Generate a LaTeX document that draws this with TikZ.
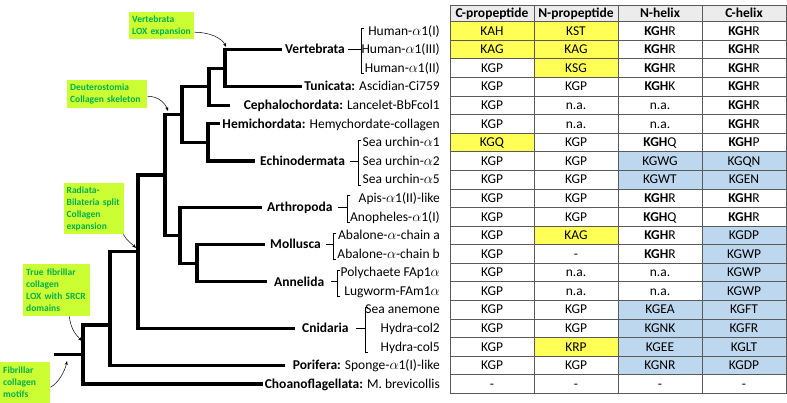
\documentclass[tikz,border=0pt]{standalone}
\usepackage{fontspec}
\setmainfont{Carlito}
\usetikzlibrary{matrix,arrows.meta}
\definecolor{boxg}{RGB}{204,255,51}
\definecolor{txtg}{RGB}{0,176,80}
\definecolor{yelc}{RGB}{255,255,85}
\definecolor{bluc}{RGB}{189,215,238}
\definecolor{hdrc}{RGB}{236,236,236}
\definecolor{gridc}{RGB}{90,90,90}
\begin{document}
\begin{tikzpicture}[x=1pt,y=-1pt,
 tree/.style={line width=3.2pt},
 grp/.style={font=\fontsize{13.5}{15}\selectfont\bfseries, inner xsep=3pt, inner ysep=0pt, text height=11.5pt, text depth=3pt, anchor=west},
 sp/.style={font=\fontsize{13.5}{15}\selectfont, inner xsep=2pt, inner ysep=0pt, text height=11.5pt, text depth=3pt, anchor=east},
 brk/.style={line width=0.6pt},
 note/.style={fill=boxg, text=txtg, font=\fontsize{9.5}{12}\selectfont\bfseries, align=left, anchor=north west, inner xsep=3pt, inner ysep=2pt},
 arr/.style={-{Stealth[length=4pt,width=3pt]}, line width=0.5pt},
 cell/.style={minimum width=84pt, minimum height=18.58pt, inner sep=0pt, outer sep=0pt, text height=11.5pt, text depth=3pt, font=\fontsize{13.5}{15}\selectfont},
 hd/.style={fill=hdrc, minimum height=16.7pt, font=\fontsize{13.5}{15}\selectfont\bfseries},
 yc/.style={fill=yelc}, bc/.style={fill=bluc},
 gline/.style={draw=gridc, line width=0.8pt}
]
\useasboundingbox (0,0) rectangle (787,403);

% ---------- table ----------
\matrix (tab) [matrix of nodes, nodes={cell}, column sep=0pt, row sep=0pt, anchor=north west, inner sep=0pt, outer sep=0pt] at (450,5) {
|[hd]| C-propeptide & |[hd]| N-propeptide & |[hd]| N-helix & |[hd]| C-helix \\
|[yc]| KAH & |[yc]| KST & \textbf{KGH}R & \textbf{KGH}R \\
|[yc]| KAG & |[yc]| KAG & \textbf{KGH}R & \textbf{KGH}R \\
KGP & |[yc]| KSG & \textbf{KGH}R & \textbf{KGH}R \\
KGP & KGP & \textbf{KGH}K & \textbf{KGH}R \\
KGP & n.a. & n.a. & \textbf{KGH}R \\
KGP & n.a. & n.a. & \textbf{KGH}R \\
|[yc]| KGQ & KGP & \textbf{KGH}Q & \textbf{KGH}P \\
KGP & KGP & |[bc]| KGWG & |[bc]| KGQN \\
KGP & KGP & |[bc]| KGWT & |[bc]| KGEN \\
KGP & KGP & \textbf{KGH}R & \textbf{KGH}R \\
KGP & KGP & \textbf{KGH}Q & \textbf{KGH}R \\
KGP & |[yc]| KAG & \textbf{KGH}R & |[bc]| KGDP \\
KGP & - & \textbf{KGH}R & |[bc]| KGWP \\
KGP & n.a. & n.a. & |[bc]| KGWP \\
KGP & n.a. & n.a. & |[bc]| KGWP \\
KGP & KGP & |[bc]| KGEA & |[bc]| KGFT \\
KGP & KGP & |[bc]| KGNK & |[bc]| KGFR \\
KGP & |[yc]| KRP & |[bc]| KGEE & |[bc]| KGLT \\
KGP & KGP & |[bc]| KGNR & |[bc]| KGDP \\
- & - & - & - \\
};
\foreach \r in {1,...,20} \draw[gline] (tab-\r-1.south west) -- (tab-\r-4.south east);
\foreach \c in {1,2,3} \draw[gline] (tab-1-\c.north east) -- (tab-21-\c.south east);
\draw[gline] (tab-1-1.north west) rectangle (tab-21-4.south east);

% ---------- tree nodes ----------
\coordinate (vert) at (225,68.2);
\coordinate (olf) at (209,86.7);
\coordinate (amb) at (208,142.5);
\coordinate (deut) at (182,114.6);
\coordinate (loph) at (197,263.2);
\coordinate (prot) at (180,235.4);
\coordinate (bil) at (165,175);
\coordinate (eum) at (138,251.6);
\coordinate (met) at (110,325);
\coordinate (root) at (83,354.5);
\coordinate (stem) at (54,354.5);
\coordinate (cepEnd) at (230,105.3);
\coordinate (porEnd) at (285,365.4);

% ---------- group labels ----------
\node[grp] (Lvtb) at (282,49.6) {Vertebrata};
\node[grp, inner xsep=5pt] (Lech) at (255,161.1) {Echinodermata};
\node[grp, inner xsep=5pt] (Lart) at (262,207.5) {Arthropoda};
\node[grp, inner xsep=5pt] (Lmol) at (265,244.6) {Mollusca};
\node[grp, inner xsep=7pt] (Lann) at (267,281.8) {Annelida};
\node[grp, inner xsep=7pt] (Lcni) at (295,328.3) {Cnidaria};

\node[sp] (Ltun) at (442,86.7) {\textbf{Tunicata:} Ascidian-Ci759};
\node[sp] (Lcep) at (442,105.3) {\textbf{Cephalochordata:} Lancelet-BbFcol1};
\node[sp] (Lhem) at (442,123.9) {\textbf{Hemichordata:} Hemychordate-collagen};
\node[sp] (Lpor) at (442,365.4) {\textbf{Porifera:} Sponge-$\alpha$1(I)-like};
\node[sp] (Lcho) at (442,384) {\textbf{Choanoflagellata:} M. brevicollis};

% ---------- species labels ----------
\node[sp] (s1) at (442,31.0) {Human-$\alpha$1(I)};
\node[sp] (s2) at (442,49.6) {Human-$\alpha$1(III)};
\node[sp] (s3) at (442,68.2) {Human-$\alpha$1(II)};
\node[sp] (s7) at (442,142.5) {Sea urchin-$\alpha$1};
\node[sp] (s8) at (442,161.1) {Sea urchin-$\alpha$2};
\node[sp] (s9) at (442,179.6) {Sea urchin-$\alpha$5};
\node[sp] (s10) at (442,198.2) {Apis-$\alpha$1(II)-like};
\node[sp] (s11) at (442,216.8) {Anopheles-$\alpha$1(I)};
\node[sp] (s12) at (442,235.4) {Abalone-$\alpha$-chain a};
\node[sp] (s13) at (442,253.9) {Abalone-$\alpha$-chain b};
\node[sp] (s14) at (442,272.5) {Polychaete FAp1$\alpha$};
\node[sp] (s15) at (442,291.1) {Lugworm-FAm1$\alpha$};
\node[sp] (s16) at (442,309.7) {Sea anemone};
\node[sp] (s17) at (442,328.3) {Hydra-col2};
\node[sp] (s18) at (442,346.8) {Hydra-col5};

% ---------- brackets ----------
\coordinate (bV) at (361,49.6);
\coordinate (bE) at (358,161.1);
\coordinate (bA) at (347,207.5);
\coordinate (bM) at (333,244.6);
\coordinate (bN) at (337,281.8);
\coordinate (bC) at (365,328.3);
\draw[brk] (364,28.5) -- (361,28.5) -- (361,73.7) -- (364,73.7);
\draw[brk] (361,140) -- (358,140) -- (358,185.1) -- (361,185.1);
\draw[brk] (350,195.7) -- (347,195.7) -- (347,222.3) -- (350,222.3);
\draw[brk] (336,232.9) -- (333,232.9) -- (333,259.4) -- (336,259.4);
\draw[brk] (340,270) -- (337,270) -- (337,296.6) -- (340,296.6);
\draw[brk] (368,307.2) -- (365,307.2) -- (365,352.3) -- (368,352.3);
\draw[brk] (Lvtb.east) -- (bV);
\draw[brk] (Lech.east) -- (bE);
\draw[brk] (Lart.east) -- (bA);
\draw[brk] (Lmol.east) -- (bM);
\draw[brk] (Lann.east) -- (bN);
\draw[brk] (Lcni.east) -- (bC);

% ---------- tree ----------
\draw[tree] (stem) -- (root);
\draw[tree] (root) |- (met);
\draw[tree] (root) |- (Lcho.west);
\draw[tree] (met) |- (eum);
\draw[tree] (met) |- (porEnd);
\draw[tree] (eum) |- (bil);
\draw[tree] (eum) |- (Lcni.west);
\draw[tree] (bil) |- (deut);
\draw[tree] (bil) |- (prot);
\draw[tree] (prot) |- (Lart.west);
\draw[tree] (prot) |- (loph);
\draw[tree] (loph) |- (Lmol.west);
\draw[tree] (loph) |- (Lann.west);
\draw[tree] (deut) |- (olf);
\draw[tree] (deut) |- (amb);
\draw[tree] (olf) |- (vert);
\draw[tree] (olf) |- (cepEnd);
\draw[tree] (vert) |- (Lvtb.west);
\draw[tree] (vert) |- (Ltun.west);
\draw[tree] (amb) |- (Lhem.west);
\draw[tree] (amb) |- (Lech.west);

% ---------- annotations ----------
\node[note, text width=59pt, minimum height=27pt] (n1) at (129,12) {Vertebrata\\LOX expansion};
\node[note, text width=74pt, minimum height=28pt] (n2) at (67,80) {Deuterostomia\\Collagen skeleton};
\node[note, text width=55pt, inner xsep=2.5pt, minimum height=51pt] (n3) at (64,183) {Radiata-\\Bilateria split\\Collagen\\expansion};
\node[note, text width=61pt, minimum height=52pt] (n4) at (23,264) {True fibrillar\\collagen\\LOX with SRCR\\domains};
\node[note, text width=44pt, minimum height=41pt] (n5) at (0,362) {Fibrillar\\collagen\\motifs};

\coordinate (a1e) at (226,47);
\coordinate (a2e) at (168,111);
\coordinate (a3e) at (136,248);
\coordinate (a4e) at (82,341);
\coordinate (a5e) at (67,361);
\draw[arr] ([yshift=-6.5pt]n1.east) .. controls +(15,0) and +(-4,-9) .. (a1e);
\draw[arr] ([yshift=-2pt]n2.east) .. controls +(11,0) and +(-3,-8) .. (a2e);
\draw[arr] ([xshift=-1pt]n3.south east) .. controls +(3,6) and +(-4,-4) .. (a3e);
\draw[arr] ([xshift=-21pt]n4.south east) .. controls +(1,12) and +(-6,-6) .. (a4e);
\draw[arr] ([yshift=-4.5pt]n5.east) .. controls +(8,-4) and +(-2,10) .. (a5e);
\end{tikzpicture}
\end{document}
